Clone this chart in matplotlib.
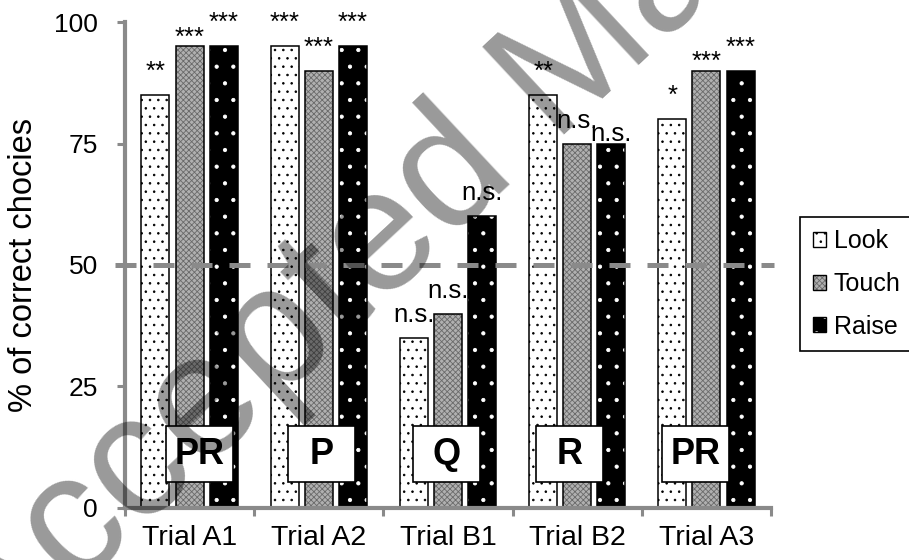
import matplotlib
matplotlib.use("Agg")
import matplotlib.pyplot as plt
import numpy as np
from matplotlib.patches import Rectangle, Patch

plt.rcParams['font.family'] = ['Liberation Sans', 'DejaVu Sans']
plt.rcParams['hatch.linewidth'] = 0.6

trials = ['Trial A1', 'Trial A2', 'Trial B1', 'Trial B2', 'Trial A3']
look = [85, 95, 35, 85, 80]
touch = [95, 90, 40, 75, 90]
raise_ = [95, 95, 60, 75, 90]
look_sig = ['**', '***', 'n.s.', '**', '*']
touch_sig = ['***', '***', 'n.s.', 'n.s.', '***']
raise_sig = ['***', '***', 'n.s.', 'n.s.', '***']
box_labels = ['PR', 'P', 'Q', 'R', 'PR']
names = ['Look', 'Touch', 'Raise']

grey = '#8a8a8a'
w = 0.217
step = 0.264

# label offset above bar top (points), per trial and series
sig_off = [[11.5, 1, 11.5], [11.5, 11.5, 11.5], [11.5, 11.5, 11.5],
           [11.5, 11.5, 1.5], [11.5, 1, 11.5]]
# small horizontal shifts of the letter boxes (category units)
box_dx = [0.074, 0.023, -0.012, -0.058, -0.081]

fig = plt.figure(figsize=(9.09, 5.6), dpi=100)
ax = fig.add_axes([0.1375, 0.0929, 0.7107, 0.8678])
x = np.arange(len(trials))

styles = [('white', '..', 'black'),
          ('#b0b0b0', 'xxxxxx', '#6a6a6a'),
          ('black', '.', 'white')]
series = [(look, look_sig), (touch, touch_sig), (raise_, raise_sig)]

handles = []
for i, ((vals, sigs), (face, hatch, hcol)) in enumerate(zip(series, styles)):
    pos = x + (i - 1) * step
    ax.bar(pos, vals, w, color=face, lw=0, zorder=2)
    ax.bar(pos, vals, w, facecolor='none', edgecolor=hcol, hatch=hatch, lw=0, zorder=2.1)
    ax.bar(pos, vals, w, facecolor='none', edgecolor='black', lw=1.1, zorder=2.2)
    for j in range(len(trials)):
        ax.annotate(sigs[j], (pos[j], vals[j]), xytext=(0, sig_off[j][i]),
                    textcoords='offset points', ha='center', va='baseline',
                    fontsize=18.5, zorder=6, annotation_clip=False)
    handles.append((Patch(facecolor=face, lw=0),
                    Patch(facecolor='none', edgecolor=hcol, hatch=hatch, lw=0),
                    Patch(facecolor='none', edgecolor='black', lw=1.0)))

# chance line
ax.axhline(50, xmin=-0.016, xmax=1.004, color=grey, lw=3.6,
           ls=(0, (4.2, 3.4)), clip_on=False, zorder=3)

# letter boxes
for j, lab in enumerate(box_labels):
    xc = x[j] + box_dx[j]
    ax.add_patch(Rectangle((xc - 0.26, 11.1 - 5.85), 0.519, 11.7, facecolor='white',
                           edgecolor='black', lw=1.2, zorder=4))
    ax.text(xc, 11.1, lab, ha='center', va='center', fontsize=26,
            fontweight='bold', zorder=5)

ax.set_xlim(-0.5, len(trials) - 0.5)
ax.set_ylim(0, 100)
ax.set_yticks([0, 25, 50, 75, 100])
ax.set_xticks(x)
ax.set_xticklabels(trials)
ax.set_xticks(np.arange(len(trials) + 1) - 0.5, minor=True)
ax.tick_params(axis='x', which='major', length=0, pad=12, labelsize=20.5)
ax.tick_params(axis='x', which='minor', length=6, width=2.2, color=grey, direction='out')
ax.tick_params(axis='y', length=6, width=2.2, color=grey, direction='out',
               pad=13.5, labelsize=19)
for s in ['top', 'right']:
    ax.spines[s].set_visible(False)
for s in ['left', 'bottom']:
    ax.spines[s].set_color(grey)
    ax.spines[s].set_linewidth(3)
ax.set_ylabel('% of correct chocies', fontsize=23.5, labelpad=11)

leg = fig.legend(handles, names, loc='center left', bbox_to_anchor=(800 / 909, 0.493),
                 frameon=True, fancybox=False, edgecolor='black', framealpha=1,
                 fontsize=18, handlelength=0.55, handleheight=0.55, handletextpad=0.3,
                 labelspacing=0.75, borderpad=0.5, borderaxespad=0)
leg.get_frame().set_linewidth(1.2)

# watermark
fig.text(-11 / 909, (560 - 671) / 560, 'Accepted Manuscript', rotation=43,
         rotation_mode='anchor', ha='left', va='baseline', fontsize=125,
         color='black', alpha=0.4, zorder=10)

fig.savefig('out.png', dpi=100)
